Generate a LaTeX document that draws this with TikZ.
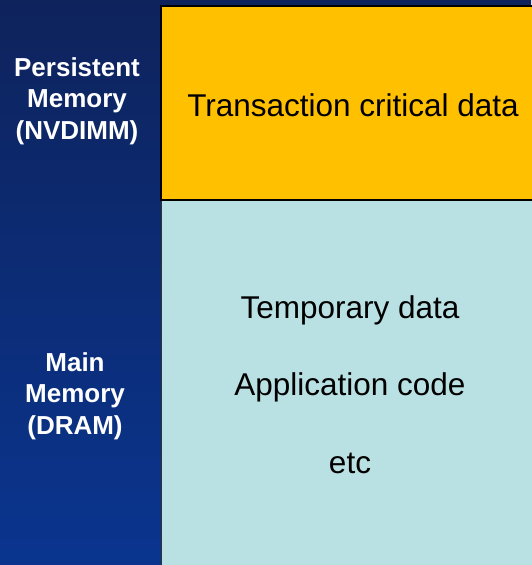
\documentclass[tikz,border=0pt]{standalone}
\usepackage{fontspec}
\setmainfont{Liberation Sans}
\definecolor{bgtop}{RGB}{14,35,92}
\definecolor{bgbot}{RGB}{10,53,143}
\definecolor{gold}{RGB}{255,192,0}
\definecolor{paleteal}{RGB}{185,224,226}
\begin{document}
\begin{tikzpicture}[x=1pt,y=-1pt,
  sidelabel/.style={text=white,font=\bfseries\fontsize{26}{31.5}\selectfont,align=center,inner sep=0pt},
  boxtext/.style={text=black,font=\fontsize{31.5}{36}\selectfont,align=center,inner sep=0pt}]
\useasboundingbox (0,0) rectangle (531,565);
\shade[top color=bgtop,bottom color=bgbot] (0,0) rectangle (531,565);
% boxes
\fill[paleteal] (161,200) rectangle (535,570);
\draw[black!80,line width=1pt] (161,570) -- (161,200) -- (535,200);
\fill[gold] (161,6) rectangle (535,200);
\draw[black,line width=2pt] (161,200) -- (161,6) -- (535,6);
\draw[black,line width=2pt] (160,200) -- (535,200);
\node[boxtext] (tcd) at (353,105) {Transaction critical data};
\node[boxtext] (tmp) at (350,310) {Temporary data};
\node[boxtext] (app) at (350,387) {Application code};
\node[boxtext] (etc) at (350,463) {etc};
\node[sidelabel] (pm) at (77,101) {Persistent\\Memory\\(NVDIMM)};
\node[sidelabel] (mm) at (75,396) {Main\\Memory\\(DRAM)};
\end{tikzpicture}
\end{document}
